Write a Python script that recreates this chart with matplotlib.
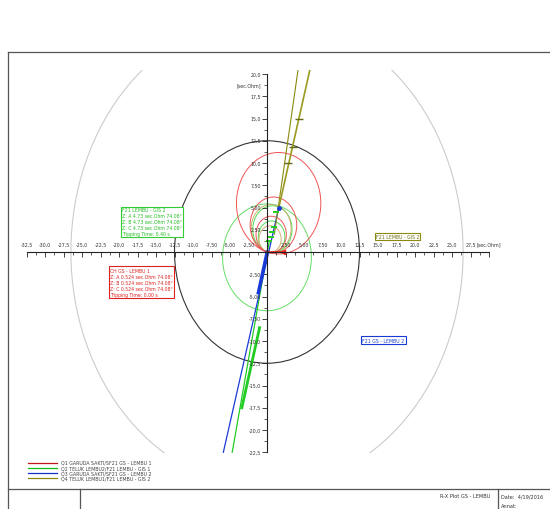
import numpy as np
import matplotlib
matplotlib.use("Agg")
import matplotlib.pyplot as plt
from matplotlib.patches import Circle
from matplotlib.lines import Line2D

# ---------------- data ----------------
series_names = ["Q1 GARUDA SAKTI/SF21 GS - LEMBU 1",
                "Q2 TELUK LEMBU2/F21 LEMBU - GIS 1",
                "Q3 GARUDA SAKTI/SF21 GS - LEMBU 2",
                "Q4 TELUK LEMBU1/F21 LEMBU - GIS 2"]
series_colors = ["#c01818", "#10c010", "#1030d0", "#8a8a10"]

# mho zone circles: (reach [sec.Ohm], angle [deg])
red_reach = [4.1, 6.3, 11.4]
red_angle = [74.0, 74.0, 74.0]
green_reach = [5.3, 3.6]
green_angle = [74.0, 70.0]
olive_reach = [5.4, 3.0]
olive_angle = [78.0, 74.0]
# offset circles: centre x, centre y, radius
green_off_cx = [0.0]
green_off_cy = [-0.6]
green_off_r = [6.0]
black_circle_r = [12.5]
gray_circle_r = [26.5]

# characteristic lines (R, X)
blue_line_r = [1.6, -5.9]
blue_line_x = [5.0, -22.5]
green_line_r = [0.3, -4.7]
green_line_x = [1.2, -22.5]
olive_line1_r = [1.0, 4.2]
olive_line1_x = [2.0, 20.5]
olive_line2_r = [1.6, 5.8]
olive_line2_x = [5.0, 20.5]
olive_marks_r = [2.8, 3.5, 4.3]
olive_marks_x = [10.0, 11.8, 14.9]
green_marks_r = [0.3, 0.5, 0.7, 0.9, 1.2]
green_marks_x = [1.2, 1.7, 2.2, 2.8, 4.55]
green_thick_r = [-1.0, -3.4]
green_thick_x = [-8.5, -17.5]
blue_thick_r = [0.0, -1.2]
blue_thick_x = [0.0, -4.6]
red_fault_r = [0.0, 2.2]
red_fault_x = [0.0, 0.0]

x_ticks = [-32.5, -30.0, -27.5, -25.0, -22.5, -20.0, -17.5, -15.0, -12.5, -10.0,
           -7.5, -5.0, -2.5, 2.5, 5.0, 7.5, 10.0, 12.5, 15.0, 17.5, 20.0, 22.5,
           25.0, 27.5]
y_ticks = [20.0, 17.5, 15.0, 12.5, 10.0, 7.5, 5.0, 2.5, -2.5, -5.0, -7.5, -10.0,
           -12.5, -15.0, -17.5, -20.0, -22.5]

green_box = ["F21 LEMBU - GIS 2", "Z: A 4.73 sec.Ohm 74.08°",
             "Z: B 4.73 sec.Ohm 74.08°", "Z: C 4.73 sec.Ohm 74.08°",
             "Tripping Time: 0.40 s"]
red_box = ["CH GS - LEMBU 1", "Z: A 0.524 sec.Ohm 74.08°",
           "Z: B 0.524 sec.Ohm 74.08°", "Z: C 0.524 sec.Ohm 74.08°",
           "Tripping Time: 0.00 s"]

# ---------------- layout ----------------
W, H = 550, 510
X0PX, Y0PX = 267.0, 253.0      # pixel position of origin
SX, SY = 7.4, 8.9              # pixels per unit
XL, XR = -33.0, 31.0
YB, YT = -22.6, 20.4

fig = plt.figure(figsize=(W / 100, H / 100), dpi=100)
fig.patch.set_facecolor("white")

ax_l = X0PX + SX * XL
ax_r = X0PX + SX * XR
ax_t = Y0PX - SY * YT
ax_b = Y0PX - SY * YB
ax = fig.add_axes([ax_l / W, 1 - ax_b / H, (ax_r - ax_l) / W, (ax_b - ax_t) / H])
ax.set_xlim(XL, XR)
ax.set_ylim(YB, YT)
ax.set_facecolor("none")

def fx(px):
    return px / W

def fy(py):
    return 1 - py / H

# frame
frame_c = "#555555"
for (x1, y1, x2, y2) in [(8, 53, 552, 53), (8, 53, 8, 512), (8, 490, 552, 490),
                         (80, 490, 80, 512), (498, 490, 498, 512)]:
    fig.add_artist(Line2D([fx(x1), fx(x2)], [fy(y1), fy(y2)], color=frame_c, lw=0.9))

fig.text(fx(490), fy(497), "R-X Plot GS - LEMBU", fontsize=3.6, color="#333333",
         ha="right", va="center")
fig.text(fx(501), fy(497), "Date:  4/19/2016", fontsize=3.6, color="#333333",
         ha="left", va="center")
fig.text(fx(501), fy(507), "Annat:", fontsize=3.6, color="#333333",
         ha="left", va="center")

# spines as axes through origin
for s in ["top", "right"]:
    ax.spines[s].set_visible(False)
ax.spines["left"].set_position(("data", 0))
ax.spines["bottom"].set_position(("data", 0))
ax.spines["left"].set_bounds(-22.5, 20.0)
ax.spines["bottom"].set_bounds(-32.5, 30.0)
for s in ["left", "bottom"]:
    ax.spines[s].set_color("#222222")
    ax.spines[s].set_linewidth(0.8)

all_x = x_ticks + [0.0, 30.0]
all_y = y_ticks + [0.0]
ax.set_xticks(all_x)
ax.set_yticks(all_y)
ax.set_xticks([v + 1.25 for v in all_x if v < 30], minor=True)
ax.set_yticks([v - 1.25 for v in all_y if v > -22.5], minor=True)
ax.tick_params(axis="both", which="major", length=3.5, width=0.6, color="#222222",
               direction="out", labelbottom=False, labelleft=False)
ax.tick_params(axis="both", which="minor", length=2, width=0.5, color="#222222",
               direction="out")

def fmt(v):
    s = "%.1f" % v if abs(v) >= 10 else "%.2f" % v
    return s.replace(".", ",")

lab_c = "#333333"
for v in x_ticks:
    ax.annotate(fmt(v), (v, 0), xytext=(0, 4), textcoords="offset points",
                fontsize=3.4, color=lab_c, ha="center", va="bottom",
                annotation_clip=False, zorder=2)
ax.annotate("[sec.Ohm]", (30.0, 0), xytext=(0, 4), textcoords="offset points",
            fontsize=3.4, color=lab_c, ha="center", va="bottom", annotation_clip=False)
for v in y_ticks:
    ax.annotate(fmt(v), (0, v), xytext=(-4, 0), textcoords="offset points",
                fontsize=3.4, color=lab_c, ha="right", va="center", annotation_clip=False)
ax.annotate("[sec.Ohm]", (0, 18.75), xytext=(-4, 0), textcoords="offset points",
            fontsize=3.4, color=lab_c, ha="right", va="center", annotation_clip=False)

# circles
def mho(reach, ang, color, lw=0.7):
    a = np.deg2rad(ang)
    c = (0.5 * reach * np.cos(a), 0.5 * reach * np.sin(a))
    ax.add_patch(Circle(c, 0.5 * reach, fill=False, ec=color, lw=lw))

for r in gray_circle_r:
    ax.add_patch(Circle((0, 0), r, fill=False, ec="#cccccc", lw=0.8))
for r in black_circle_r:
    ax.add_patch(Circle((0, 0), r, fill=False, ec="#333333", lw=0.8))
for cx, cy, r in zip(green_off_cx, green_off_cy, green_off_r):
    ax.add_patch(Circle((cx, cy), r, fill=False, ec="#66dd66", lw=0.7))
for R, a in zip(green_reach, green_angle):
    mho(R, a, "#55dd55")
for R, a in zip(olive_reach, olive_angle):
    mho(R, a, "#c8b070")
for R, a in zip(red_reach, red_angle):
    mho(R, a, "#ee5555")

# lines
ax.plot(green_line_r, green_line_x, color="#22cc22", lw=0.9)
ax.plot(green_thick_r, green_thick_x, color="#22cc22", lw=2.0)
ax.plot(blue_line_r, blue_line_x, color="#1a3ad8", lw=0.9)
ax.plot(blue_thick_r, blue_thick_x, color="#1a3ad8", lw=2.2)
ax.plot(olive_line1_r, olive_line1_x, color="#8a8a10", lw=0.8)
ax.plot(olive_line2_r, olive_line2_x, color="#9a9a20", lw=1.2)
ax.plot(olive_marks_r, olive_marks_x, ls="none", marker="_", ms=6, mew=1.0,
        color="#6a6a10")
ax.plot(green_marks_r, green_marks_x, ls="none", marker="_", ms=5, mew=1.4,
        color="#22cc22")
ax.plot([blue_line_r[0]], [blue_line_x[0]], ls="none", marker="o", ms=2.5,
        color="#1a3ad8")
ax.plot(red_fault_r, red_fault_x, color="#e02020", lw=1.2)
ax.plot([red_fault_r[1]], [red_fault_x[1]], ls="none", marker="<", ms=3,
        color="#e02020")

# annotation boxes
ax.text(-19.6, 5.0, "\n".join(green_box), fontsize=3.3, color="#22bb22",
        ha="left", va="top", linespacing=1.2, zorder=6,
        bbox=dict(boxstyle="square,pad=0.2", fc="white", ec="#33cc33", lw=0.8))
ax.text(-21.2, -1.75, "\n".join(red_box), fontsize=3.3, color="#dd2020",
        ha="left", va="top", linespacing=1.25, zorder=6,
        bbox=dict(boxstyle="square,pad=0.25", fc="white", ec="#dd2020", lw=0.8))
ax.text(14.7, 1.75, "F21 LEMBU - GIS 2", fontsize=3.3, color="#6a6a10",
        ha="left", va="center", zorder=6,
        bbox=dict(boxstyle="square,pad=0.25", fc="white", ec="#8a8a10", lw=0.8))
ax.text(12.9, -9.9, "F21 GS - LEMBU 2", fontsize=3.3, color="#1a3ad8",
        ha="left", va="center", zorder=6,
        bbox=dict(boxstyle="square,pad=0.25", fc="white", ec="#1a3ad8", lw=0.8))

# legend (figure coords)
leg_y = [463.5, 468.8, 474.1, 479.4]
for name, col, yy in zip(series_names, series_colors, leg_y):
    fig.add_artist(Line2D([fx(28), fx(57)], [fy(yy), fy(yy)], color=col, lw=0.9))
    fig.text(fx(61), fy(yy), name, fontsize=3.4, color="#444444",
             ha="left", va="center")

fig.savefig("out.png", dpi=100, facecolor="white")
